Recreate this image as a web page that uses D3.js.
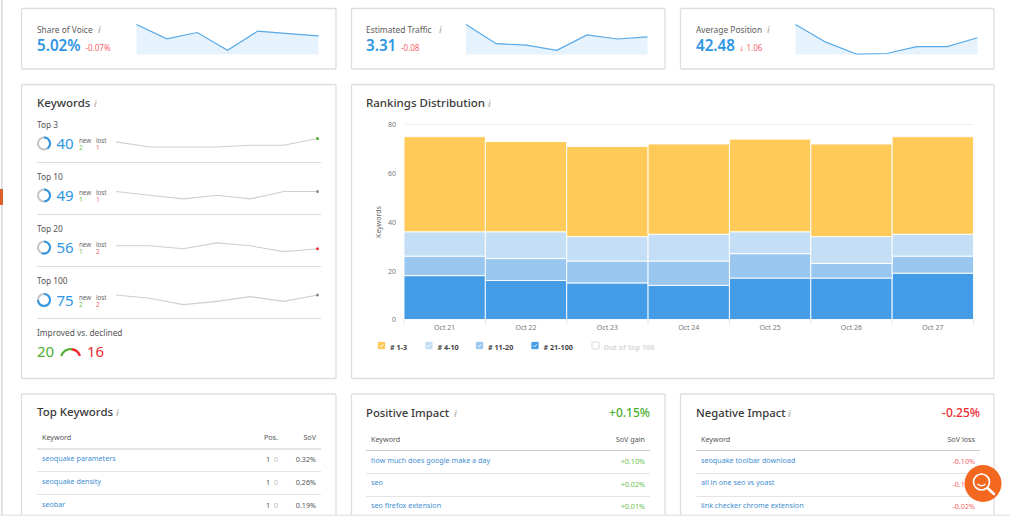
<!DOCTYPE html>
<html><head><meta charset="utf-8">
<script src="https://cdn.jsdelivr.net/npm/d3@7"></script>
<style>
html,body{margin:0;padding:0;background:#fff;overflow:hidden}
svg{display:block}
text{font-family:"Noto Sans","Open Sans",sans-serif}
</style></head><body><div id="c"></div>
<script>
const days=["Oct 21","Oct 22","Oct 23","Oct 24","Oct 25","Oct 26","Oct 27"];
const rank21=[18,16,15,14,17,17,19];
const rank11=[8,9,9,10,10,6,7];
const rank4=[10,11,10,11,9,11,9];
const rank1=[39,37,37,37,38,38,40];
const yTicks=[0,20,40,60,80];
const legendNames=["# 1-3","# 4-10","# 11-20","# 21-100","Out of top 100"];
const sovSeries=[5.40,4.92,5.13,4.53,5.18,5.09,5.02];
const trafficSeries=[3.79,3.05,2.99,2.79,3.39,3.23,3.31];
const positionSeries=[44.07,41.95,40.53,40.59,41.42,41.42,42.48];
const top3=[38,35,35,35,36,36,40];
const top10=[49,47,45,47,45,49,49];
const top20=[57,57,56,58,57,55,56];
const top100=[75,73,69,71,74,71,75];
const topKeywords=[["seoquake parameters","1","0","0.32%"],["seoquake density","1","0","0.26%"],["seobar","1","0","0.19%"]];
const positive=[["how much does google make a day","+0.10%"],["seo","+0.02%"],["seo firefox extension","+0.01%"]];
const negative=[["seoquake toolbar download","-0.10%"],["all in one seo vs yoast","-0.10%"],["link checker chrome extension","-0.02%"]];

const BLUE="#2f96e3",RED="#f4525a",GREEN="#4caf2f",DARK="#3a3a3a",MID="#666",LINK="#3f8fd2";
const svg=d3.select("#c").append("svg").attr("width",1010).attr("height",516);
const T=(x,y,s,size,fill,o={})=>svg.append("text").attr("x",x).attr("y",y).text(s)
  .attr("font-size",size).attr("fill",fill).attr("font-weight",o.w||400).attr("text-anchor",o.a||"start");
const info=(x,y)=>svg.append("text").attr("x",x).attr("y",y).text("i").attr("font-size",9)
  .attr("font-style","italic").attr("font-family","Liberation Serif").attr("font-weight",700).attr("fill","#bbb");
const card=(x,y,w,h)=>svg.append("rect").attr("x",x).attr("y",y).attr("width",w).attr("height",h)
  .attr("fill","#fff").attr("stroke","#dedede").attr("stroke-width",1.3).attr("rx",1);

// page edges
svg.append("rect").attr("x",1).attr("y",0).attr("width",1.6).attr("height",516).attr("fill","#d9d9d9");
svg.append("rect").attr("x",0).attr("y",189).attr("width",3).attr("height",16).attr("fill","#d9602c");

[[21.5,8.5,314.5,60.5],[351.5,8.5,313.5,60.5],[680.5,8.5,313.5,60.5],[21.5,84.5,314.5,294],[351.5,84.5,642.5,294],
 [21.5,394,314.5,140],[351.5,394,313.5,140],[680.5,394,313.5,140]].forEach(c=>card(...c));

// KPI cards
const kpis=[
 {x:37,label:"Share of Voice",ix:98,val:"5.02%",dx:85.5,delta:"-0.07%",s:sovSeries,x0:136.5,x1:318.5,d:[4.39,5.40]},
 {x:366,label:"Estimated Traffic",ix:439,val:"3.31",dx:401,delta:"-0.08",s:trafficSeries,x0:466,x1:647.5,d:[2.63,3.79]},
 {x:696,label:"Average Position",ix:767,val:"42.48",dx:739,arrow:"↓",delta:" 1.06",s:positionSeries,x0:795.5,x1:977.5,d:[40.47,44.07]}];
kpis.forEach(k=>{
  T(k.x,33,k.label,8.4,"#5c5c5c");info(k.ix,33);
  T(k.x,51,k.val,15.2,BLUE,{w:600});
  const dt=T(k.dx,51,"",8,"#f6646b");
  if(k.arrow)dt.append("tspan").attr("font-family","DejaVu Sans").attr("font-size",6.5).text(k.arrow);
  dt.append("tspan").text(k.delta);
  const x=d3.scalePoint().domain(d3.range(k.s.length)).range([k.x0,k.x1]);
  const y=d3.scaleLinear().domain(k.d).range([54.5,24.5]);
  svg.append("path").datum(k.s).attr("fill","#e6f2fc")
    .attr("d",d3.area().x((d,i)=>x(i)).y0(54.5).y1(d=>y(d)));
  svg.append("path").datum(k.s).attr("fill","none").attr("stroke","#57a9e8").attr("stroke-width",1.2)
    .attr("d",d3.line().x((d,i)=>x(i)).y(d=>y(d)));
});

// Keywords
T(37,107,"Keywords",11.5,DARK,{w:500});info(94,107);
const rows=[
 {name:"Top 3",ly:127.5,val:40,n:2,l:1,s:top3,y0:138.5,k:1.7,c:"#4caf2f",sep:162.5},
 {name:"Top 10",ly:179.5,val:49,n:1,l:1,s:top10,y0:191.5,k:1.85,c:"#8a8a8a",sep:214.5},
 {name:"Top 20",ly:231.5,val:56,n:1,l:2,s:top20,y0:248.7,k:2.9,c:"#f03030",sep:266.5},
 {name:"Top 100",ly:284,val:75,n:2,l:2,s:top100,y0:295,k:1.6,c:"#8a8a8a",sep:318.5}];
const ringArc=d3.arc().innerRadius(5).outerRadius(7);
rows.forEach(r=>{
  T(37,r.ly,r.name,8.3,"#555");
  const cy=r.ly+16;
  const g=svg.append("g").attr("transform",`translate(44,${cy})`);
  g.append("path").attr("fill","#c4c4c4").attr("d",ringArc({startAngle:0,endAngle:2*Math.PI}));
  g.append("path").attr("fill",BLUE).attr("d",ringArc({startAngle:0,endAngle:2*Math.PI*r.val/100}));
  T(56.5,cy+5.5,r.val,15,BLUE);
  T(79,r.ly+15.5,"new",6.2,"#666");T(96,r.ly+15.5,"lost",6.2,"#666");
  T(79,r.ly+22.5,r.n,6.5,"#6cc04a");T(96,r.ly+22.5,r.l,6.5,"#f6646b");
  const x=d3.scalePoint().domain(d3.range(7)).range([116,317.5]);
  const last=r.s[6];
  const y=d3.scaleLinear().domain([last,last-1]).range([r.y0,r.y0+r.k]);
  svg.append("path").datum(r.s).attr("fill","none").attr("stroke","#cfcfcf").attr("stroke-width",1.1)
    .attr("d",d3.line().x((d,i)=>x(i)).y(d=>y(d)));
  svg.append("circle").attr("cx",x(6)).attr("cy",y(last)).attr("r",1.5).attr("fill",r.c);
  svg.append("line").attr("x1",37).attr("x2",321).attr("y1",r.sep).attr("y2",r.sep).attr("stroke","#dcdcdc");
});
T(37,336,"Improved vs. declined",8.3,"#555");
const improved=20,declined=16;
T(37,357,improved,15,GREEN);T(87,357,declined,15,"#ee2b33");
const gA=d3.arc().innerRadius(8.7).outerRadius(11);
const gs=svg.append("g").attr("transform","translate(70.5,359)");
const lim=1.25,split=-lim+2*lim*improved/(improved+declined);
gs.append("path").attr("fill",GREEN).attr("d",gA({startAngle:-lim,endAngle:split}));
gs.append("path").attr("fill","#ee2b33").attr("d",gA({startAngle:split,endAngle:lim}));

// Rankings chart
T(366,107,"Rankings Distribution",11.5,DARK,{w:500});info(488,107);
const x=d3.scaleBand().domain(days).range([404,973.5]);
const y=d3.scaleLinear().domain([0,80]).range([319.5,124.5]);
svg.append("line").attr("x1",404).attr("x2",973).attr("y1",y(80)).attr("y2",y(80)).attr("stroke","#f0f0f0").attr("stroke-width",1.2);
const series=[{v:rank21,c:"#439ce5"},{v:rank11,c:"#9ac7f0"},{v:rank4,c:"#c4def5"},{v:rank1,c:"#ffca58"}];
const table=days.map((d,i)=>({day:d,a:rank21[i],b:rank11[i],c:rank4[i],e:rank1[i]}));
const stack=d3.stack().keys(["a","b","c","e"])(table);
stack.forEach((layer,j)=>{
  svg.append("g").selectAll("rect").data(layer).join("rect")
   .attr("x",d=>x(d.data.day)).attr("width",x.bandwidth())
   .attr("y",d=>y(d[1])).attr("height",d=>y(d[0])-y(d[1]))
   .attr("fill",series[j].c).attr("stroke","#fff").attr("stroke-opacity",.9).attr("stroke-width",1);
});
const ya=svg.append("g").attr("transform","translate(404,0)").call(d3.axisLeft(y).tickValues(yTicks).tickSize(0).tickPadding(8));
ya.select(".domain").remove();
ya.selectAll("text").attr("font-size",7).attr("fill","#777");
const xa=svg.append("g").attr("transform","translate(0,320)").call(d3.axisBottom(x).tickSize(0).tickPadding(5));
xa.select(".domain").remove();
xa.selectAll("text").attr("font-size",7).attr("fill","#777");
svg.append("g").selectAll("line").data([...days.map(d=>x(d)),x.range()[1]]).join("line")
  .attr("x1",d=>d).attr("x2",d=>d).attr("y1",320).attr("y2",325).attr("stroke","#dfe6f5");
svg.append("text").attr("transform","translate(381,222) rotate(-90)").attr("text-anchor","middle")
  .attr("font-size",7).attr("fill","#666").text("Keywords");
// legend
const legendBoxes=[378,425.5,476,531.5,592];
const legendColors=["#ffca58","#c4def5","#9ac7f0","#439ce5",null];
legendNames.forEach((n,i)=>{
  const bx=legendBoxes[i],c=legendColors[i];
  svg.append("rect").attr("x",bx).attr("y",342).attr("width",7).attr("height",7).attr("rx",1)
    .attr("fill",c||"#fff").attr("stroke",c||"#d5d5d5").attr("stroke-width",c?.3:.9);
  if(c)svg.append("path").attr("d",`M${bx+1.8},345.6l1.2,1.3l2.3,-2.6`).attr("fill","none").attr("stroke","#fff").attr("stroke-width",.9);
  T(bx+(i==4?11.5:12),349.6,n,7.2,c?"#444":"#d8d8d8",{w:700});
});

// tables
function hdr(x0,x1,textX,yh,yl){
  T(textX,yh,"Keyword",7.2,"#555");
  svg.append("line").attr("x1",x0).attr("x2",x1).attr("y1",yl).attr("y2",yl).attr("stroke","#c5ced3").attr("stroke-width",1.1);
}
T(37,416,"Top Keywords",11.5,DARK,{w:500});info(116,416);
hdr(37,321,42,440,449);
T(278,440,"Pos.",7.2,"#555",{a:"end"});T(316,440,"SoV",7.2,"#555",{a:"end"});
topKeywords.forEach((r,i)=>{
  const yy=461+i*22.8;
  T(42,yy,r[0],7.2,LINK);
  T(266,yy+1,r[1],7.2,"#555");T(274,yy+1,r[2],7.2,"#bbb");T(316,yy+1,r[3],7.2,"#555",{a:"end"});
  if(i<2)svg.append("line").attr("x1",37).attr("x2",321).attr("y1",471.5+i*23).attr("y2",471.5+i*23).attr("stroke","#e4e4e4");
});
function impact(x0,title,ix,total,col,head,data,soft){
  T(x0,417,title,11.3,DARK,{w:500});info(ix,417);
  T(x0+284,417,total,12,col,{a:"end",w:500});
  hdr(x0,x0+284,x0+5,442,450.5);
  T(x0+279,442,head,7.2,"#555",{a:"end"});
  data.forEach((r,i)=>{
    const yy=462.5+i*22.7;
    T(x0+5,yy,r[0],7.2,LINK);
    T(x0+279,yy+1.5,r[1],7.2,soft,{a:"end"});
    if(i<2)svg.append("line").attr("x1",x0).attr("x2",x0+284).attr("y1",473.5+i*23).attr("y2",473.5+i*23).attr("stroke","#e4e4e4");
  });
}
impact(366,"Positive Impact",454,"+0.15%",GREEN,"SoV gain",positive,"#6cc04a");
impact(696,"Negative Impact",788,"-0.25%","#ee2b33","SoV loss",negative,"#f6646b");

// footer edge + floating search button
svg.append("rect").attr("x",0).attr("y",514.5).attr("width",1010).attr("height",1.5).attr("fill","#e8e8e8");
const b=svg.append("g").attr("transform","translate(983,483.5)");
b.append("circle").attr("r",18.5).attr("fill","#f4671f");
b.append("circle").attr("cx",-1.5).attr("cy",-1.5).attr("r",8).attr("fill","none").attr("stroke","#fff").attr("stroke-width",1.7);
b.append("path").attr("d","M4.5,4.5L11,10.5").attr("stroke","#fff").attr("stroke-width",2.6).attr("stroke-linecap","round");
b.append("path").attr("d","M-5.5,0.5Q-1.5,4 2.5,0.5").attr("fill","none").attr("stroke","#fff").attr("stroke-width",1.3);
</script></body></html>
